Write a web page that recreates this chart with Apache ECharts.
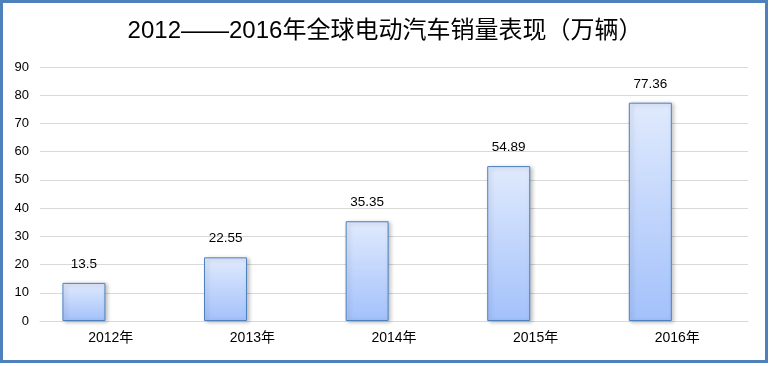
<!DOCTYPE html>
<html><head><meta charset="utf-8">
<script src="https://cdn.jsdelivr.net/npm/echarts@6/dist/echarts.min.js"></script>
<style>html,body{margin:0;padding:0;background:#fff}#c{width:770px;height:366px}</style>
</head><body><div id="c"></div>
<script>
const titleText = '2012——2016年全球电动汽车销量表现（万辆）';
const categories = ['2012年', '2013年', '2014年', '2015年', '2016年'];
const sales = [13.5, 22.55, 35.35, 54.89, 77.36];
const yTicks = [0, 10, 20, 30, 40, 50, 60, 70, 80, 90];

const FONT = "'Liberation Sans', 'Noto Sans CJK SC', sans-serif";
const chart = echarts.init(document.getElementById('c'), null, {renderer: 'canvas'});
chart.setOption({
  animation: false,
  title: {
    text: titleText, left: 'center', top: 14,
    textStyle: {fontFamily: FONT, fontSize: 24, fontWeight: 'normal', color: '#000'}
  },
  graphic: [{
    type: 'rect', shape: {x: 1.5, y: 1.5, width: 765, height: 360},
    style: {fill: null, stroke: '#4f81bd', lineWidth: 3}, silent: true, z: 100
  }],
  grid: {left: 40, right: 22, top: 67, bottom: 45, containLabel: false},
  xAxis: {
    type: 'category', data: categories,
    axisLine: {show: true, lineStyle: {color: '#d9d9d9', width: 1}},
    axisTick: {show: false},
    axisLabel: {fontFamily: FONT, fontSize: 14, color: '#000', margin: 10}
  },
  yAxis: {
    type: 'value', min: yTicks[0], max: yTicks[yTicks.length - 1], interval: 10,
    axisLine: {show: false}, axisTick: {show: false},
    splitLine: {lineStyle: {color: '#d9d9d9', width: 1}},
    axisLabel: {fontFamily: FONT, fontSize: 13, color: '#000', margin: 11}
  },
  series: [{
    type: 'bar', data: sales, barWidth: 43, barGap: '25%',
    itemStyle: {
      color: new echarts.graphic.LinearGradient(0, 0, 0, 1, [
        {offset: 0, color: '#e0eafd'}, {offset: 1, color: '#a3c1fb'}
      ]),
      borderColor: '#4f81bd', borderWidth: 1,
      shadowColor: 'rgba(0,0,0,0.25)', shadowBlur: 4, shadowOffsetX: 2, shadowOffsetY: 1
    },
    label: {show: true, position: 'top', distance: 12, fontFamily: FONT, fontSize: 13.5, color: '#000'}
  }, {
    type: 'bar', data: [], barWidth: 43
  }]
});
</script></body></html>
